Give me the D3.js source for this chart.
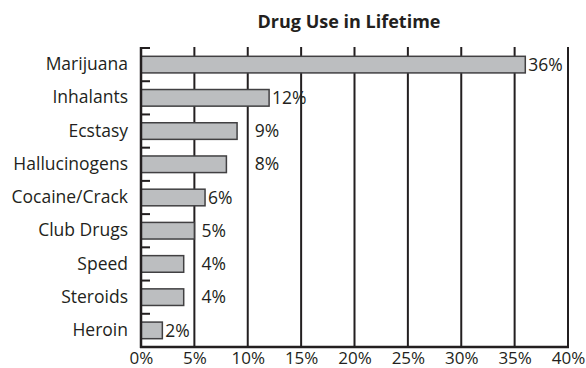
<!DOCTYPE html>
<html>
<head>
<meta charset="utf-8">
<script src="https://cdn.jsdelivr.net/npm/d3@7"></script>
<style>
  html, body { margin: 0; padding: 0; background: #fff; }
  svg { display: block; }
  text { font-family: "Open Sans", "Noto Sans", sans-serif; fill: #231f20; }
</style>
</head>
<body>
<svg id="chart" width="586" height="368"></svg>
<script>
// Lifetime drug use, share of respondents (%)
const drugs = ["Marijuana", "Inhalants", "Ecstasy", "Hallucinogens", "Cocaine/Crack",
               "Club Drugs", "Speed", "Steroids", "Heroin"];
const usePct = [36, 12, 9, 8, 6, 5, 4, 4, 2];
const xTicks = [0, 5, 10, 15, 20, 25, 30, 35, 40];
const chartTitle = "Drug Use in Lifetime";

const svg = d3.select("#chart");
const ink = "#231f20";
const fontPx = "17.5px";
const plotL = 141, plotR = 568, plotT = 48, plotB = 347;

const x = d3.scaleLinear().domain([0, 40]).range([plotL, plotR]);
const y = d3.scaleBand().domain(drugs).range([plotT, plotB]).paddingInner(0.5).paddingOuter(0.25);
const step = y.step();

// title
svg.append("text")
  .attr("x", 349).attr("y", 27.5)
  .attr("text-anchor", "middle")
  .style("font-weight", "bold").style("font-size", "18px")
  .text(chartTitle);

// vertical gridlines (the 40% line closes the plot on the right)
svg.append("g").selectAll("line")
  .data(xTicks.filter(d => d > 0))
  .join("line")
  .attr("x1", d => x(d)).attr("x2", d => x(d))
  .attr("y1", plotT - 1).attr("y2", plotB)
  .attr("stroke", ink).attr("stroke-width", 2);

// x axis with percent labels
const xAxis = d3.axisBottom(x).tickValues(xTicks).tickFormat(d => d + "%").tickSize(0);
const gx = svg.append("g").attr("transform", `translate(0,${plotB})`).call(xAxis);
gx.select(".domain").attr("stroke", ink).attr("stroke-width", 2.5).attr("d", `M${plotL - 1},0H${plotR + 1}`);
gx.selectAll("text").attr("y", 16.5).attr("dy", null)
  .style("font-size", "17px").attr("font-family", null).attr("fill", ink);

// bars
svg.append("g").selectAll("rect")
  .data(drugs)
  .join("rect")
  .attr("x", x(0))
  .attr("y", d => y(d))
  .attr("width", (d, i) => x(usePct[i]) - x(0))
  .attr("height", y.bandwidth())
  .attr("fill", "#bcbec0")
  .attr("stroke", "#414042")
  .attr("stroke-width", 1.5);

// left axis: spine with short ticks at the category boundaries
const yAxis = d3.axisLeft(y).tickSize(0).tickPadding(13);
const gy = svg.append("g").attr("transform", `translate(${plotL},0)`).call(yAxis);
gy.select(".domain").attr("stroke", ink).attr("stroke-width", 2.5).attr("d", `M0,${plotT - 1}V${plotB + 1}`);
gy.selectAll("text").style("font-size", fontPx).attr("font-family", null).attr("fill", ink);
gy.selectAll(".boundary")
  .data(d3.range(drugs.length))
  .join("line")
  .attr("class", "boundary")
  .attr("x1", 0).attr("x2", 9)
  .attr("y1", i => plotT + i * step).attr("y2", i => plotT + i * step)
  .attr("stroke", ink).attr("stroke-width", 2);

// value labels: sit just past the bar end, hopping over a nearby gridline
const gridXs = xTicks.filter(d => d > 0).map(x);
const labels = svg.append("g").selectAll("text")
  .data(drugs)
  .join("text")
  .attr("y", d => y(d) + y.bandwidth() / 2)
  .attr("dy", "0.35em")
  .style("font-size", fontPx)
  .text((d, i) => usePct[i] + "%");

labels.each(function (d, i) {
  const end = x(usePct[i]);
  const w = this.getComputedTextLength();
  let lx = end + 3;
  const g = gridXs.find(gv => gv >= end - 2);
  if (g !== undefined && g - end < 22 && lx + w > g) lx = g + 7;
  d3.select(this).attr("x", lx);
});
</script>
</body>
</html>
